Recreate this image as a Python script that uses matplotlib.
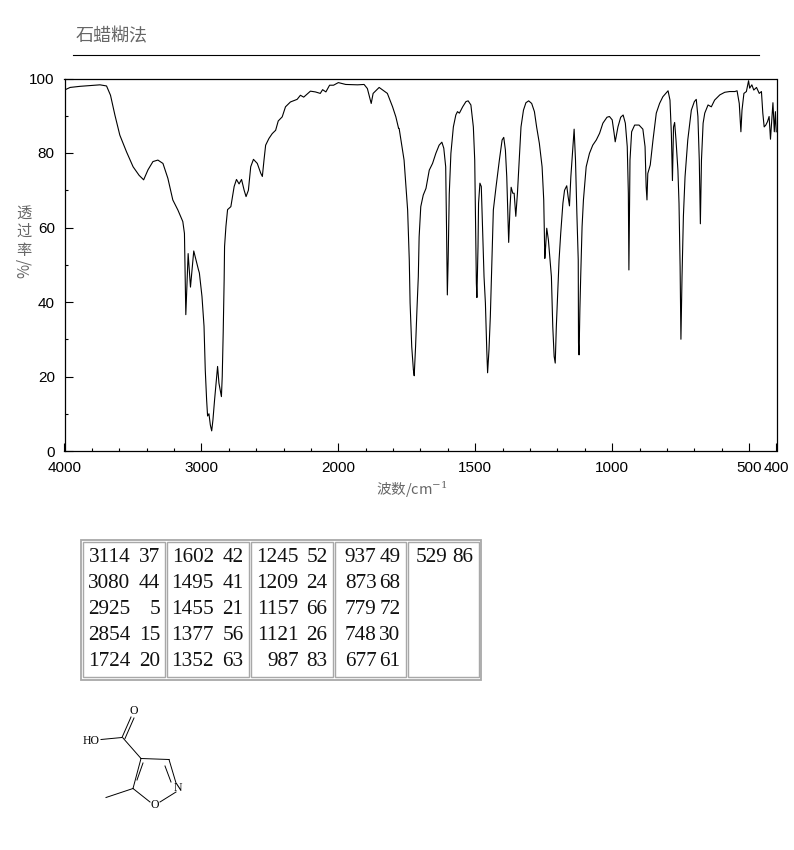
import numpy as np
import matplotlib
matplotlib.use("Agg")
import matplotlib.pyplot as plt
from matplotlib.patches import Rectangle

CJK = ["Noto Sans CJK SC", "DejaVu Sans"]
SANS = ["Liberation Sans"]
SERIF = ["Liberation Serif"]
GREY = "#666666"

# spectrum
wavenumber = [
    4000, 3959, 3886, 3814, 3741, 3693, 3664, 3632, 3596, 3547, 3499, 3455, 3422, 3390, 3354, 3318,
    3281, 3245, 3209, 3172, 3136, 3124, 3114, 3097, 3080, 3056, 3022, 3015, 2996, 2981, 2972, 2962,
    2955, 2945, 2935, 2925, 2916, 2904, 2894, 2882, 2872, 2854, 2848, 2841, 2834, 2831, 2821, 2809,
    2785, 2761, 2744, 2725, 2707, 2688, 2674, 2657, 2640, 2620, 2592, 2567, 2555, 2543, 2531, 2507,
    2483, 2458, 2439, 2410, 2386, 2350, 2301, 2277, 2253, 2204, 2168, 2132, 2115, 2091, 2064, 2035,
    2000, 1973, 1930, 1906, 1894, 1880, 1873, 1851, 1821, 1802, 1790, 1780,
    1778, 1760, 1747, 1744, 1741, 1738, 1732, 1726, 1723, 1718, 1713, 1708, 1705, 1699, 1690, 1680,
    1668, 1656, 1644, 1632, 1622, 1615, 1608, 1605, 1602, 1599, 1595, 1589, 1580, 1571, 1565, 1558,
    1546, 1534, 1526, 1516, 1507, 1502, 1499, 1496, 1494, 1490, 1488, 1483, 1478, 1473, 1468, 1463,
    1458, 1455, 1450, 1445, 1439, 1434, 1424, 1412, 1402, 1396, 1390, 1385, 1382, 1378, 1373, 1369,
    1363, 1358, 1352, 1346, 1339, 1333, 1324, 1315, 1305, 1294, 1284, 1276, 1266, 1256, 1250, 1246,
    1243, 1239, 1233, 1227, 1222, 1217, 1212, 1208, 1204, 1199, 1194, 1188, 1180, 1174, 1166, 1161,
    1156, 1151, 1145, 1139, 1134, 1129, 1124, 1123, 1121, 1118, 1115, 1110, 1105, 1095, 1083, 1071,
    1058, 1046, 1034, 1019, 1010, 1000, 993, 989, 979, 969, 960, 952, 945, 941, 939, 935,
    929, 918, 902, 888, 880, 876, 873, 870, 861, 851, 839, 827, 815, 796, 789, 784,
    780, 776, 772, 767, 760, 756, 752, 750, 749, 745, 740, 734, 724, 711, 700, 693,
    687, 682, 678, 674, 668, 662, 650, 638, 626, 607, 589, 571, 552, 544, 536, 530,
    526, 519, 510, 502, 498, 490, 483, 473, 463, 455, 450, 445, 439, 433, 427, 422,
    418, 413, 408, 404, 401,
]
transmittance = [
    96.9, 97.6, 97.9, 98.1, 98.3, 98.0, 95.5, 90.2, 84.8, 80.3, 76.3, 74.0, 72.8, 75.5, 77.7, 78.1,
    77.2, 73.2, 67.4, 64.7, 61.6, 58.4, 36.6, 53.0, 44.0, 53.7, 48.7, 47.8, 41.5, 33.5, 21.8, 13.7,
    9.4, 10.0, 7.0, 5.4, 8.3, 13.7, 17.8, 22.7, 18.2, 14.6, 20.0, 31.7, 46.0, 54.9, 60.3, 64.8,
    65.6, 71.0, 72.9, 71.7, 72.9, 70.0, 68.3, 70.0, 76.3, 78.3, 77.2, 74.6, 73.7, 78.1, 82.1, 83.9,
    85.2, 86.1, 88.6, 89.7, 92.4, 93.7, 94.4, 95.5, 95.0, 96.6, 96.4, 96.0, 97.0, 96.4, 98.2, 98.2,
    98.9, 98.4, 98.3, 98.4, 97.3, 93.3, 96.0, 97.6, 96.0, 92.4, 89.7, 86.6,
    86.6, 78.1, 64.7, 58.4, 51.3, 39.7, 28.0, 21.8, 20.2, 28.0, 37.9, 46.8, 57.5, 65.6, 68.7, 70.5,
    75.4, 77.2, 79.9, 82.1, 82.9, 81.3, 76.3, 60.2, 41.9, 51.3, 69.0, 79.9, 87.0, 90.2, 91.1, 90.7,
    92.4, 93.8, 94.0, 92.9, 87.0, 78.1, 62.0, 45.0, 41.2, 54.9, 66.5, 71.9, 71.0, 58.4, 46.8, 39.7,
    27.1, 21.0, 27.1, 36.1, 51.3, 64.7, 71.0, 78.1, 83.5, 84.2, 80.8, 73.6, 65.6, 56.0, 65.6, 70.8,
    69.2, 69.2, 63.0, 69.2, 79.0, 87.0, 91.5, 93.5, 94.0, 93.3, 91.1, 87.0, 82.6, 76.3, 67.4, 51.7,
    54.9, 59.8, 56.7, 51.3, 46.8, 33.4, 25.4, 23.6, 33.4, 42.4, 51.3, 58.4, 66.5, 70.0, 71.2, 68.3,
    65.8, 73.6, 79.9, 86.4, 78.1, 63.8, 51.3, 29.0, 25.8, 37.9, 46.8, 60.2, 67.4, 76.3, 79.9, 82.1,
    83.5, 85.3, 88.0, 89.6, 89.8, 88.9, 85.3, 83.0, 87.0, 89.6, 90.2, 88.0, 81.7, 69.2, 48.6, 78.1,
    85.7, 87.5, 87.5, 86.4, 81.7, 71.0, 67.4, 74.5, 76.8, 83.5, 90.7, 93.3, 95.1, 96.7, 94.2, 85.3,
    72.6, 87.0, 88.2, 83.5, 75.4, 66.5, 49.5, 35.2, 30.0, 46.8, 63.0, 73.6, 83.5, 91.5, 93.8, 94.4,
    89.8, 78.1, 61.0, 78.1, 88.0, 90.7, 92.9, 92.4, 94.2, 95.6, 96.3, 96.5, 96.5, 96.7, 93.3, 85.7,
    91.5, 96.0, 96.5, 99.4, 97.4, 98.3, 96.9, 97.6, 96.0, 96.5, 90.7, 87.0, 87.5, 88.4, 89.8, 83.7,
    88.0, 93.5, 85.7, 91.1, 85.7,
]

# peak table, one list per column of the table
peak_columns = [
    [("3114", "37"), ("3080", "44"), ("2925", "5"), ("2854", "15"), ("1724", "20")],
    [("1602", "42"), ("1495", "41"), ("1455", "21"), ("1377", "56"), ("1352", "63")],
    [("1245", "52"), ("1209", "24"), ("1157", "66"), ("1121", "26"), ("987", "83")],
    [("937", "49"), ("873", "68"), ("779", "72"), ("748", "30"), ("677", "61")],
    [("529", "86")],
]

major_x = [4000, 3000, 2000, 1500, 1000, 500, 400]
minor_x = [3800, 3600, 3400, 3200, 2800, 2600, 2400, 2200,
           1900, 1800, 1700, 1600, 1400, 1300, 1200, 1100,
           900, 800, 700, 600]


def squash(x):
    # axis runs at half scale above 2000
    x = np.asarray(x, dtype=float)
    return np.where(x > 2000, 2000 + (x - 2000) / 2, x)


def unsquash(x):
    x = np.asarray(x, dtype=float)
    return np.where(x > 2000, 2000 + (x - 2000) * 2, x)


W, H = 794, 850
fig = plt.figure(figsize=(W / 100, H / 100), dpi=100, facecolor="white")

# overlay in pixel coordinates for everything outside the plot
page = fig.add_axes([0, 0, 1, 1])
page.set_xlim(0, W)
page.set_ylim(H, 0)
page.axis("off")

ax = fig.add_axes([64.5 / W, 1 - 451.0 / H, 712.0 / W, 372.5 / H])
ax.set_xscale("function", functions=(squash, unsquash))
ax.plot(wavenumber, transmittance, color="black", lw=0.8)
ax.set_xlim(4000, 400)
ax.set_ylim(0, 100)
ax.set_xticks(major_x)
ax.set_xticks(minor_x, minor=True)
ax.set_xticklabels([str(v) for v in major_x], family=SANS, fontsize=11)
ax.set_yticks([0, 20, 40, 60, 80, 100])
ax.set_yticks([10, 30, 50, 70, 90], minor=True)
ax.set_yticklabels(["0", "20", "40", "60", "80", "100"], family=SANS, fontsize=11)
ax.tick_params(which="major", direction="in", length=5.5, width=0.8, pad=7)
ax.tick_params(which="minor", direction="in", length=2.5, width=0.8)
for spine in ax.spines.values():
    spine.set_linewidth(0.9)

# heading
page.text(76, 36, "石蜡糊法", family=CJK, fontsize=13, color=GREY, va="center", ha="left")
page.plot([73, 759], [54.5, 54.5], color="black", lw=0.8)

# axis titles
for y, ch in zip([213, 231, 250], "透过率"):
    page.text(24, y, ch, family=CJK, fontsize=11, color=GREY, ha="center", va="center")
page.text(24, 268, "%/", family=CJK, fontsize=11, color=GREY, ha="center", va="center", rotation=90)
page.text(412, 490, "波数/cm$^{-1}$", family=CJK, fontsize=10.5, color=GREY, ha="center", va="center",
          math_fontfamily="dejavuserif")

# table frames
page.add_patch(Rectangle((80.5, 539.5), 400, 140, fc="none", ec="#a8a8a8", lw=1.3))
cell_edges = [(82.5, 164.5), (166.5, 248.5), (250.5, 332.5), (334.5, 405.5), (407.5, 478.5)]
for left, right in cell_edges:
    page.add_patch(Rectangle((left, 542), right - left, 135, fc="none", ec="#a8a8a8", lw=1.0))

# right edges of the wavenumber and intensity numbers
text_edges = [(130.5, 160), (214, 243.5), (298.5, 327.5), (376.5, 400.5), (447, 473.5)]
row_y = [557, 583, 609.5, 635.5, 661.5]
for rows, (edge_a, edge_b) in zip(peak_columns, text_edges):
    for (wn, pct), y in zip(rows, row_y):
        page.text(edge_a, y, wn, family=SERIF, fontsize=15.3, color="#111111", ha="right", va="center")
        page.text(edge_b, y, pct, family=SERIF, fontsize=15.3, color="#111111", ha="right", va="center")

# structure of the compound
bonds = [
    ((101, 739.5), (122, 737.5)),
    ((122, 737.5), (131, 717)), ((125, 738.5), (134, 718)),
    ((123, 738), (141, 758.5)),
    ((141, 758.5), (169, 759.5)),
    ((169, 759.5), (176, 783)), ((165, 766), (171, 782)),
    ((176, 792), (160, 802)),
    ((150, 802), (133, 788.5)),
    ((133, 788.5), (141, 758.5)), ((137, 780), (143, 763)),
    ((133, 788.5), (106, 797.5)),
]
for start, end in bonds:
    page.plot([start[0], end[0]], [start[1], end[1]], color="black", lw=0.7)
page.text(91, 740.5, "HO", family=SERIF, fontsize=8.5, ha="center", va="center")
page.text(133.5, 711, "O", family=SERIF, fontsize=8.5, ha="center", va="center")
page.text(177.5, 788, "N", family=SERIF, fontsize=8.5, ha="center", va="center")
page.text(155, 804.5, "O", family=SERIF, fontsize=8.5, ha="center", va="center")

fig.savefig("out.png", dpi=100)
